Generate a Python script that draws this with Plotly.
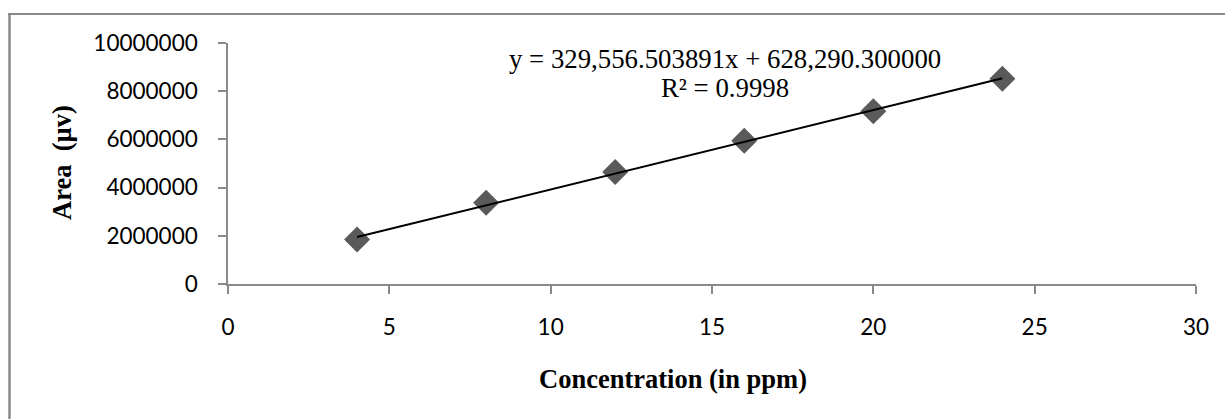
import plotly.graph_objects as go

# ---- data ----
concentration = [4, 8, 12, 16, 20, 24]
area = [1850000, 3370000, 4650000, 5940000, 7170000, 8520000]
slope = 329556.503891
intercept = 628290.300000
r_squared = 0.9998
x_ticks = [0, 5, 10, 15, 20, 25, 30]
y_ticks = [0, 2000000, 4000000, 6000000, 8000000, 10000000]

W, H = 1225, 419
L, R, T, B = 228, 29, 43, 135
PW, PH = W - L - R, H - T - B

def px(x):
    return (x - L) / PW

def py(y):
    return (H - B - y) / PH

trend_x = [concentration[0], concentration[-1]]
trend_y = [slope * v + intercept for v in trend_x]

fig = go.Figure()
fig.add_trace(go.Scatter(
    x=concentration, y=area, mode="markers",
    marker=dict(symbol="diamond", size=20, color="#5a5a5a",
                line=dict(width=0)),
    showlegend=False, hoverinfo="skip"))
fig.add_trace(go.Scatter(
    x=trend_x, y=trend_y, mode="lines",
    line=dict(color="black", width=2),
    showlegend=False, hoverinfo="skip"))

axis_color = "#898989"
fig.update_xaxes(range=[0, 30], tickvals=x_ticks, ticktext=[str(v) for v in x_ticks],
                 showgrid=False, zeroline=False, showline=True, linecolor=axis_color,
                 linewidth=1.5, ticks="outside", ticklen=8, tickwidth=1.5,
                 tickcolor=axis_color, ticklabelstandoff=14,
                 tickfont=dict(family="Lato", size=22.5, color="black"))
fig.update_yaxes(range=[0, 10000000], tickvals=y_ticks, ticktext=[str(v) for v in y_ticks],
                 showgrid=False, zeroline=False, showline=True, linecolor=axis_color,
                 linewidth=1.5, ticks="outside", ticklen=8, tickwidth=1.5,
                 tickcolor=axis_color, ticklabelstandoff=16,
                 tickfont=dict(family="Lato", size=22.5, color="black"))

serif = "Liberation Serif, Times New Roman, serif"
annotations = [
    dict(x=px(725), y=py(59), text=f"y = {slope:,.6f}x + {intercept:,.6f}",
         font=dict(family=serif, size=26.8, color="black")),
    dict(x=px(725), y=py(88), text=f"R² = {r_squared}",
         font=dict(family=serif, size=26.8, color="black")),
    dict(x=px(673), y=py(379), text="<b>Concentration (in ppm)</b>",
         font=dict(family=serif, size=26.5, color="black")),
    dict(x=px(62), y=py(163), text="<b>Area\u00a0\u00a0(µv)</b>", textangle=-90,
         font=dict(family=serif, size=26.5, color="black")),
]
for a in annotations:
    a.update(xref="paper", yref="paper", xanchor="center", yanchor="middle",
             showarrow=False)

shapes = [
    dict(type="line", xref="paper", yref="paper", x0=px(9.5), x1=px(9.5),
         y0=py(13), y1=py(H + 5), line=dict(color=axis_color, width=2.5)),
    dict(type="line", xref="paper", yref="paper", x0=px(8), x1=px(W + 5),
         y0=py(14), y1=py(14), line=dict(color=axis_color, width=2)),
]

fig.update_layout(width=W, height=H, margin=dict(l=L, r=R, t=T, b=B),
                  paper_bgcolor="white", plot_bgcolor="white",
                  annotations=annotations, shapes=shapes, showlegend=False)

fig.write_html("out.html", config={"displayModeBar": False},
               post_script="document.body.style.margin='0';document.body.style.overflow='hidden';")
